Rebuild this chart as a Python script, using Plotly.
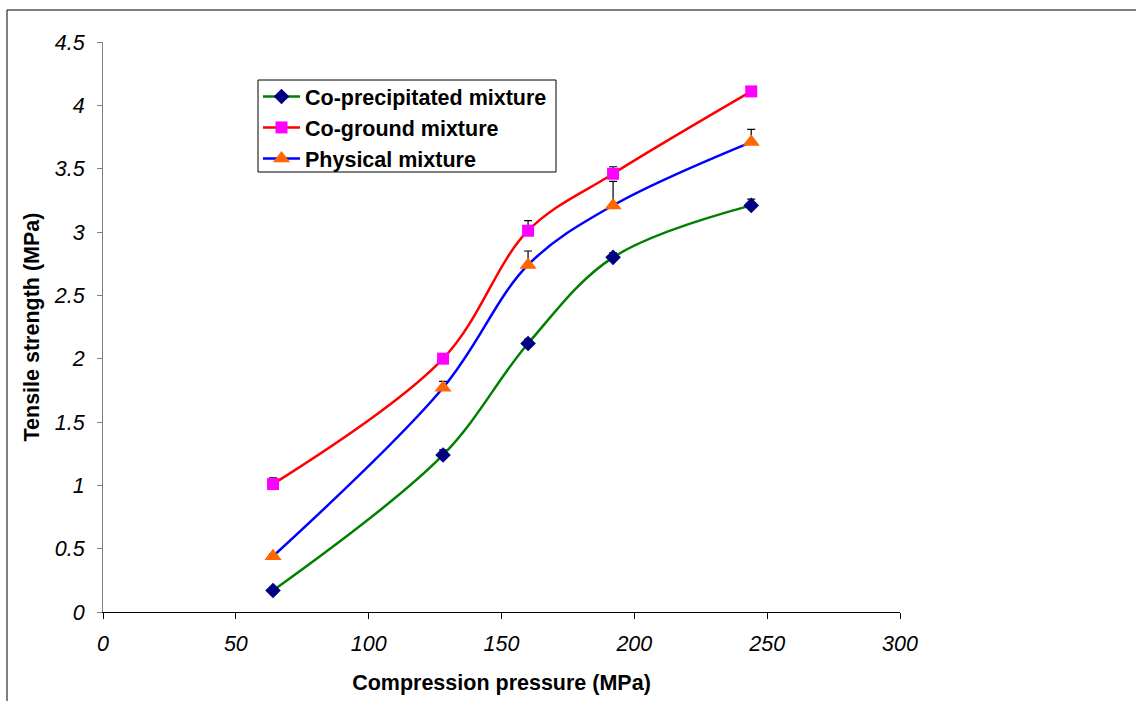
import plotly.graph_objects as go

pressure = [64, 128, 160, 192, 244]
co_precip = [0.17, 1.24, 2.12, 2.80, 3.21]
co_precip_err = [0.0, 0.04, 0.035, 0.035, 0.05]
co_ground = [1.01, 2.00, 3.01, 3.46, 4.11]
co_ground_err = [0.05, 0.0, 0.08, 0.055, 0.0]
physical = [0.44, 1.77, 2.74, 3.21, 3.71]
physical_err = [0.02, 0.05, 0.11, 0.19, 0.10]

series_names = ["Co-precipitated mixture", "Co-ground mixture", "Physical mixture"]
x_ticks = [0, 50, 100, 150, 200, 250, 300]
y_ticks = [0, 0.5, 1, 1.5, 2, 2.5, 3, 3.5, 4, 4.5]
y_tick_text = ["0", "0.5", "1", "1.5", "2", "2.5", "3", "3.5", "4", "4.5"]

FONT = "Liberation Sans, Arial, sans-serif"
fig = go.Figure()

specs = [
    (series_names[0], co_precip, co_precip_err, "#008000", "#000080", "diamond", 12),
    (series_names[1], co_ground, co_ground_err, "#FF0000", "#FF00FF", "square", 12),
    (series_names[2], physical, physical_err, "#0000FF", "#FF6600", "triangle-up", 15),
]
for name, ys, err, lc, mc, sym, sz in specs:
    fig.add_trace(go.Scatter(
        x=pressure, y=ys, name=name, mode="lines+markers",
        line=dict(color=lc, width=2.5, shape="spline", smoothing=1.0),
        marker=dict(color=mc, symbol=sym, size=sz, line=dict(width=0)),
        error_y=dict(type="data", symmetric=False, array=err,
                     arrayminus=[0] * len(err), color="black", thickness=1.2, width=4),
    ))

# plot area: l=103, r=900, t=42, b=612 (pixels)
def px_x(p):
    return (p - 103) / 797.0

def px_y(p):
    return (612 - p) / 570.0

fig.update_layout(
    width=1136, height=701,
    margin=dict(l=103, r=236, t=42, b=89, autoexpand=False),
    plot_bgcolor="white", paper_bgcolor="white",
    font=dict(family=FONT, color="black"),
    showlegend=True,
    legend=dict(
        x=px_x(258), y=px_y(76), xanchor="left", yanchor="top",
        bgcolor="rgba(0,0,0,0)", borderwidth=0,
        font=dict(family=FONT, size=21.5, weight="bold"),
        tracegroupgap=0, itemwidth=37,
    ),
    xaxis=dict(
        range=[0, 300], tickvals=x_ticks, showgrid=False, zeroline=False,
        showline=True, linecolor="black", linewidth=1, automargin=False,
        ticks="outside", ticklen=6, tickcolor="black", ticklabelstandoff=6,
        tickfont=dict(family=FONT, size=21.5, style="italic"),
        title=dict(text="Compression pressure (MPa)", standoff=20,
                   font=dict(family=FONT, size=21.5, weight="bold")),
    ),
    yaxis=dict(
        range=[0, 4.5], tickvals=y_ticks, ticktext=y_tick_text,
        showgrid=False, zeroline=False, automargin=False,
        showline=True, linecolor="#808080", linewidth=1,
        ticks="outside", ticklen=5, tickcolor="#808080", ticklabelstandoff=8,
        tickfont=dict(family=FONT, size=21.5, style="italic"),
        title=dict(text="Tensile strength (MPa)", standoff=8,
                   font=dict(family=FONT, size=21.5, weight="bold")),
    ),
    shapes=[
        dict(type="rect", xref="paper", yref="paper",
             x0=px_x(7), x1=px_x(1145), y0=px_y(710), y1=px_y(10),
             line=dict(color="black", width=1), fillcolor="rgba(0,0,0,0)", layer="below"),
        dict(type="rect", xref="paper", yref="paper",
             x0=px_x(258), x1=px_x(556), y0=px_y(172), y1=px_y(80),
             line=dict(color="black", width=1), fillcolor="white", layer="below"),
    ],
)

fig.write_html("out.html")
